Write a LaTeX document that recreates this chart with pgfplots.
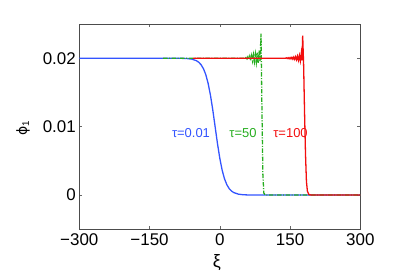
\documentclass[border=0pt]{standalone}
\usepackage{pgfplots}
\pgfplotsset{compat=1.18}
\usepackage{fontspec}
\setmainfont{Liberation Sans}
\newfontfamily\dejavu{DejaVu Sans}
\definecolor{mblue}{rgb}{0.2,0.33,1}
\definecolor{mgreen}{rgb}{0.15,0.68,0.12}
\definecolor{mred}{rgb}{0.95,0.05,0.05}
\begin{document}
\begin{tikzpicture}
\useasboundingbox (0,0) rectangle (398bp,272bp);
\begin{axis}[
  at={(79.3bp,42.7bp)}, anchor=south west,
  scale only axis, width=281bp, height=205.3bp,
  xmin=-300, xmax=300, ymin=-0.005, ymax=0.025,
  scaled y ticks=false, scaled x ticks=false,
  xtick={-300,-150,0,150,300},
  xticklabels={−300,−150,0,150,300},
  ytick={0,0.01,0.02},
  yticklabels={0,0.01,0.02},
  tick align=inside, major tick length=3bp,
  tick style={black!60, line width=0.5pt},
  axis line style={black!70, line width=0.6pt},
  ticklabel style={font=\fontsize{17}{17}\selectfont},
  xticklabel style={yshift=-1bp},
  clip=false,
]
% blue tau=0.01
\addplot[mblue, line width=1.3pt] coordinates {
(-300,0.02) (-100,0.02) (-80,0.01998) (-70,0.01995) (-60,0.01987) (-50,0.01964)
(-45,0.01941) (-40,0.01905) (-35,0.01848) (-30,0.01762) (-25,0.01635) (-20,0.01462)
(-15,0.01245) (-10,0.01) (-5,0.00755) (0,0.00538) (5,0.00365) (10,0.00238)
(15,0.00152) (20,0.00095) (25,0.00059) (30,0.00036) (40,0.00013) (50,0.00005)
(60,0.00002) (80,0) (300,0)
};
% green tau=50
\addplot[mgreen, line width=1.3pt, dash pattern=on 4.5pt off 1.5pt on 1pt off 1.5pt] coordinates {
(-121,0.02) (50,0.02) (54,0.02) (56,0.0201) (58,0.0199) (60,0.0202) (62,0.0198)
(64,0.0203) (66,0.0197) (68,0.0204) (70,0.0196) (72,0.0205) (74,0.0195)
(76,0.0206) (78,0.0194) (80,0.0208) (82,0.0193) (84,0.0211) (86,0.0196)
(88,0.0236) (90,0.0125) (92,0.003) (94,0.0003) (97,0) (300,0)
};
% red tau=100
\addplot[mred, line width=1.3pt] coordinates {
(-57,0.02) (140,0.02) (142,0.02005) (144,0.01995) (146,0.02008) (148,0.01992)
(150,0.0201) (152,0.0199) (154,0.02013) (156,0.01987) (158,0.02017) (160,0.01983)
(162,0.02022) (164,0.01978) (166,0.0203) (168,0.0197) (170,0.0204) (172,0.0196)
(174,0.0207) (175.5,0.0197) (177,0.0233) (179,0.019) (181,0.012) (183,0.006)
(185,0.002) (187,0.0006) (190,0.0001) (195,0) (300,0)
};
\node[mblue, font=\fontsize{13}{13}\selectfont] at (axis cs:-61.5,0.00906) {τ=0.01};
\node[mgreen, font=\fontsize{13}{13}\selectfont] at (axis cs:49.5,0.00906) {τ=50};
\node[mred, font=\fontsize{13}{13}\selectfont] at (axis cs:151,0.00906) {τ=100};
\node[font=\fontsize{18}{18}\selectfont] at (rel axis cs:0.49,-0.16) {ξ};
\node[rotate=90, font=\fontsize{14}{14}\selectfont] at (rel axis cs:-0.2,0.493) {{\dejavu ϕ}\textsubscript{1}};
\end{axis}
\end{tikzpicture}
\end{document}
